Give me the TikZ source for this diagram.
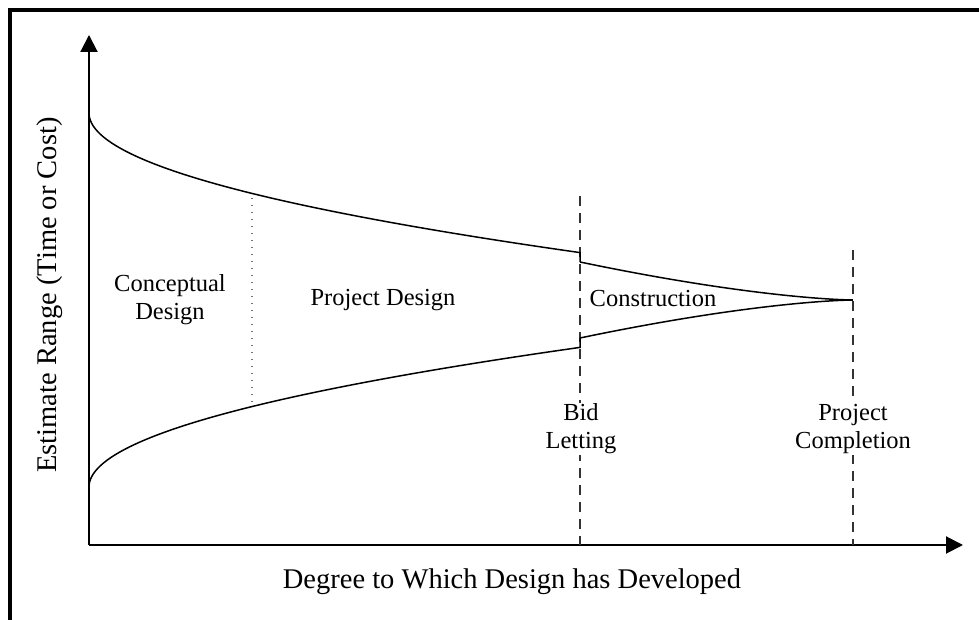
\documentclass[tikz,border=0pt]{standalone}
\usepackage{fontspec}
\setmainfont{Liberation Serif}
\usetikzlibrary{arrows.meta}
\colorlet{mydash}{black!80}
\colorlet{mydot}{black!55}

\begin{document}
\begin{tikzpicture}[x=1pt,y=1pt]
\tikzset{axis/.style ={line width=2pt, -{Triangle[length=17pt,width=17pt]}}}
\tikzset{curve/.style ={line width=1.5pt}}
\tikzset{phase/.style ={mydash, line width=1.5pt, dash pattern=on 10pt off 7pt}}
\tikzset{label/.style ={align=center, font=\fontsize{24.5}{28}\selectfont}}
\tikzset{axislabel/.style ={font=\fontsize{28.5}{32}\selectfont}}
\useasboundingbox (-89,-75) rectangle (890,545);
% frame
\draw[line width=4pt] (-79,-90) -- (-79,535) -- (900,535);
% axes
\coordinate (O) at (0,0);
\coordinate (ytip) at (0,510);
\coordinate (xtip) at (874,0);
\draw[axis] (O) -- (ytip);
\draw[axis] (O) -- (xtip);
\node[axislabel, rotate=90] (ylab) at (-39,250) {Estimate Range (Time or Cost)};
\node[axislabel] (xlab) at (423,-37) {Degree to Which Design has Developed};
% phase borders
\coordinate (cdtop) at (163,347);
\coordinate (cdbot) at (163,142);
\coordinate (bidtop) at (491,349);
\coordinate (bidbot) at (491,0);
\coordinate (endtop) at (764,295);
\coordinate (endbot) at (764,0);
\draw[mydot, line width=1.2pt, dash pattern=on 1pt off 6pt] (cdtop) -- (cdbot);
\draw[phase] (bidtop) -- (bidbot);
\draw[phase] (endtop) -- (endbot);
% estimate range
\draw[curve] plot[domain=0:22.16, samples=60] ({\x*\x},{432-6.3*\x})
  -- (491,283) plot[domain=0:1, samples=40] ({491+273*\x},{245+38*(1-\x)*sqrt(1-\x)});
\draw[curve] plot[domain=0:22.16, samples=60] ({\x*\x},{58+6.3*\x})
  -- (491,207) plot[domain=0:1, samples=40] ({491+273*\x},{245-38*(1-\x)*sqrt(1-\x)});
% phases
\node[label] (concept) at (81,245) {Conceptual\\Design};
\node[label] (design) at (294,245) {Project Design};
\node[label] (constr) at (564,246) {Construction};
\node[label, fill=white, inner sep=1pt] (bid) at (492,116) {Bid\\Letting};
\node[label, fill=white, inner sep=1pt] (compl) at (764,116) {Project\\Completion};
\end{tikzpicture}
\end{document}
